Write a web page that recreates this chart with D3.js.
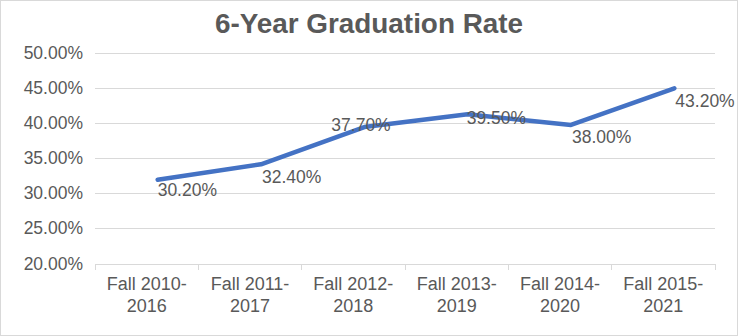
<!DOCTYPE html>
<html><head><meta charset="utf-8">
<script src="https://cdn.jsdelivr.net/npm/d3@7"></script>
<style>html,body{margin:0;padding:0;background:#fff}svg{display:block}</style>
</head><body>
<svg id="c" width="738" height="336"></svg>
<script>
const title = "6-Year Graduation Rate";
const categories = [["Fall 2010-","2016"],["Fall 2011-","2017"],["Fall 2012-","2018"],["Fall 2013-","2019"],["Fall 2014-","2020"],["Fall 2015-","2021"]];
const rates = [30.2, 32.4, 37.7, 39.5, 38.0, 43.2];
const rateLabels = ["30.20%","32.40%","37.70%","39.50%","38.00%","43.20%"];
const yTicks = [20, 25, 30, 35, 40, 45, 50];

// label placement nudges (px) relative to each point, as seen in the reference
const labelNudge = [[11,-2],[12,1],[-22,-14],[10,-8],[12,0],[12,0.5]];

const W = 738, H = 336;
const m = {left: 95, right: 23, top: 52.5, bottom: 72.5};
const svg = d3.select("#c");
const font = "'Liberation Sans', Arial, sans-serif";
const txt = "#595959";

svg.append("rect").attr("x",0.5).attr("y",0.5).attr("width",W-1).attr("height",H-1)
  .attr("fill","#fff").attr("stroke","#d9d9d9");

const x = d3.scaleBand().domain(d3.range(categories.length)).range([m.left, W-m.right]);
const y = d3.scaleLinear().domain([20, 50]).range([H-m.bottom, m.top]);

svg.append("text").attr("x", W/2).attr("y", 32.5).attr("text-anchor","middle")
  .attr("font-family", font).attr("font-weight","bold").attr("font-size",28)
  .attr("fill", txt).attr("textLength",308).attr("lengthAdjust","spacingAndGlyphs").text(title);

// gridlines
const ya = d3.axisLeft(y).tickValues(yTicks).tickSize(-(W-m.left-m.right)).tickPadding(12)
  .tickFormat(d => d.toFixed(2) + "%");
const gy = svg.append("g").attr("transform",`translate(${m.left},0)`).call(ya);
gy.select(".domain").remove();
gy.selectAll(".tick line").attr("stroke","#d9d9d9").attr("stroke-width",1)
  .attr("shape-rendering","crispEdges");
gy.selectAll(".tick text").attr("font-family",font).attr("font-size",17.5).attr("fill",txt);

// x axis
const xa = d3.axisBottom(x).tickSize(0).tickFormat(()=>"");
const gx = svg.append("g").attr("transform",`translate(0,${H-m.bottom})`).call(xa);
gx.select(".domain").attr("stroke","#d9d9d9").attr("shape-rendering","crispEdges");
const bounds = d3.range(categories.length+1).map(i => m.left + i*x.bandwidth());
gx.selectAll(".sep").data(bounds).join("line").attr("class","sep")
  .attr("x1",d=>d).attr("x2",d=>d).attr("y1",0).attr("y2",6)
  .attr("stroke","#d9d9d9").attr("shape-rendering","crispEdges");
const lab = gx.selectAll(".cat").data(categories).join("text").attr("class","cat")
  .attr("font-family",font).attr("font-size",18).attr("fill",txt).attr("text-anchor","middle");
lab.append("tspan").attr("x",(d,i)=>x(i)+x.bandwidth()/2).attr("y",26.5).text(d=>d[0]);
lab.append("tspan").attr("x",(d,i)=>x(i)+x.bandwidth()/2).attr("y",48.2).text(d=>d[1]);

// line (drawn offset as in the reference)
const line = d3.line().x((d,i)=>x(i)+x.bandwidth()/2).y(d=>y(d));
svg.append("path").datum(rates).attr("transform","translate(11,-12)")
  .attr("d", line).attr("fill","none").attr("stroke","#4472c4").attr("stroke-width",4.5)
  .attr("stroke-linejoin","round").attr("stroke-linecap","round");

// data labels
svg.selectAll(".dl").data(rates).join("text").attr("class","dl")
  .attr("x",(d,i)=>x(i)+x.bandwidth()/2+labelNudge[i][0]).attr("y",(d,i)=>y(d)+labelNudge[i][1])
  .attr("dominant-baseline","central")
  .attr("font-family",font).attr("font-size",17.5).attr("fill",txt)
  .text((d,i)=>rateLabels[i]);
</script>
</body></html>
